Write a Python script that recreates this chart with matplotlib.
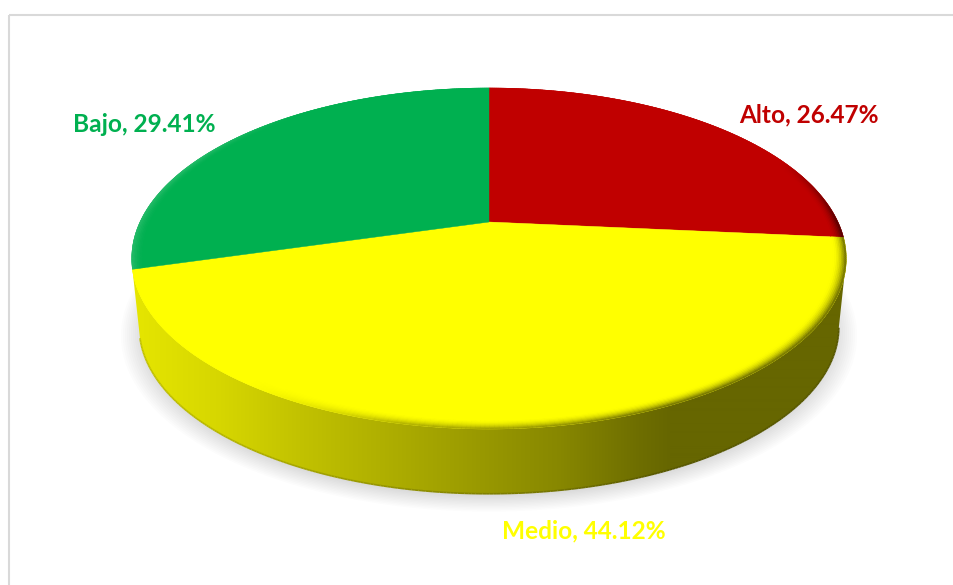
import numpy as np
import matplotlib
matplotlib.use('Agg')
import matplotlib.pyplot as plt
from matplotlib.collections import PolyCollection, LineCollection
from matplotlib.patches import Rectangle, Polygon
from matplotlib.colors import to_rgb

names = ['Alto', 'Medio', 'Bajo']
values = [26.47, 44.12, 29.41]
colors = ['#c00000', '#ffff00', '#00b050']
label_pos = [(809, 115), (584, 531), (144, 125)]
rim_light = [0.0, 0.0, 0.15]

# disc geometry, in pixels
cx, cy = 489, 222
R, S, k = 349.0, 162.7, 0.214
depth = 70
base_scale = 0.98

# wall brightness from left to right
shade_x = [135, 220, 300, 380, 480, 560, 640, 670]
shade_v = [0.90, 0.84, 0.76, 0.69, 0.60, 0.53, 0.43, 0.40]

def project(a, r=1.0, dy=0.0):
    # a is clockwise from the back of the disc
    u = r * np.sin(a)
    v = -r * np.cos(a)
    w = 1 - k * v
    return cx + R * u / w, cy + dy + S * v / w

def shade(x):
    return np.interp(x, shade_x, shade_v)

fig = plt.figure(figsize=(9.54, 5.85), dpi=100)
ax = fig.add_axes([0, 0, 1, 1])

ax.add_patch(Rectangle((9, 15), 2000, 2000, fill=False, edgecolor='#d9d9d9', linewidth=1.5))

edges = np.cumsum([0] + values) / sum(values) * 2 * np.pi

# soft shadow below the disc
ring = np.linspace(0, 2 * np.pi, 300)
for s in np.linspace(1.05, 0.99, 12):
    x, y = project(ring, base_scale * s, depth + 5)
    ax.fill(x, y, color='black', alpha=0.012, linewidth=0, zorder=1)

# side wall of the front slice, a horizontal gradient clipped to its outline
# the outline starts where the rim is widest so the right silhouette stays straight
widest = np.arccos(-k)
steps = np.linspace(max(edges[1], widest), edges[2], 320)
base = np.array(to_rgb(colors[1]))
xt, yt = project(steps)
xb, yb = project(steps, base_scale, depth)
outline = Polygon(np.c_[np.r_[xt, xb[::-1]], np.r_[yt, yb[::-1]]], closed=True, transform=ax.transData)
grad_x = np.arange(100, 880)
grad = shade(grad_x)[None, :, None] * base[None, None, :]
im = ax.imshow(grad, extent=[100, 880, 520, 230], aspect='auto', zorder=2, interpolation='bilinear')
im.set_clip_path(outline)

# darker line along the lower edge of the wall
segs = []
seg_colors = []
for i in range(len(steps) - 1):
    segs.append([(xb[i], yb[i]), (xb[i + 1], yb[i + 1])])
    seg_colors.append(base * shade(xb[i]) * 0.85)
ax.add_collection(LineCollection(segs, colors=seg_colors, linewidths=1.2, zorder=3))

# flat top of every slice
for i in range(len(values)):
    a = np.linspace(edges[i], edges[i + 1], 200)
    x, y = project(a)
    ax.fill(np.r_[cx, x], np.r_[cy, y], color=colors[i], linewidth=0.3, zorder=4)

# rounded rim, fading into the wall colour on the lit-away side
rim_r = np.linspace(0.965, 1.0, 9)
for i in range(len(values)):
    col = np.array(to_rgb(colors[i]))
    a = np.linspace(edges[i], edges[i + 1], 260)
    quads = []
    quad_colors = []
    for j in range(len(rim_r) - 1):
        t = ((j + 0.5) / (len(rim_r) - 1)) ** 2
        for n in range(len(a) - 1):
            x0, y0 = project(a[n], rim_r[j])
            x1, y1 = project(a[n + 1], rim_r[j])
            x2, y2 = project(a[n + 1], rim_r[j + 1])
            x3, y3 = project(a[n], rim_r[j + 1])
            xm = (x0 + x1) / 2
            v = -np.cos((a[n] + a[n + 1]) / 2)
            w = np.clip((v + 0.4) / 0.4, 0, 1) * np.clip((xm - 250) / 150, 0, 1)
            c = col * (1 - t * w * (1 - shade(xm)))
            c = c + (1 - c) * rim_light[i] * t * np.clip((300 - xm) / 100, 0, 1)
            quads.append([(x0, y0), (x1, y1), (x2, y2), (x3, y3)])
            quad_colors.append(c)
    ax.add_collection(PolyCollection(quads, facecolors=quad_colors, edgecolors=quad_colors, linewidths=0.3, zorder=5))

for i in range(len(values)):
    ax.text(label_pos[i][0], label_pos[i][1], '%s, %.2f%%' % (names[i], values[i]),
            color=colors[i], family='Lato', fontweight='bold', fontsize=17.6,
            ha='center', va='center', zorder=6)

ax.set_xlim(0, 954)
ax.set_ylim(585, 0)
ax.axis('off')

fig.savefig('out.png', dpi=100)
